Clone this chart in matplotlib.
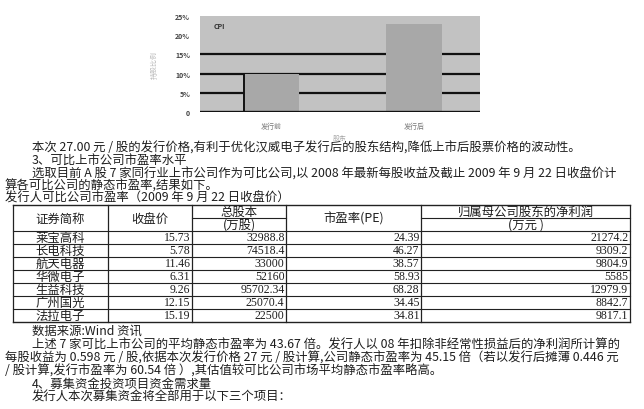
import matplotlib
matplotlib.use('Agg')
import matplotlib.pyplot as plt

plt.rcParams['font.family'] = ['Noto Sans CJK SC', 'DejaVu Sans']

# chart data (small bar chart at the top of the page)
bar_labels = ['发行前', '发行后']
bar_values = [10, 23]
y_ticks = [0, 5, 10, 15, 20, 25]
y_tick_labels = ['0', '5%', '10%', '15%', '20%', '25%']

# table data
headers = ['证券简称', '收盘价', '总股本', '市盈率(PE)', '归属母公司股东的净利润']
sub_headers = ['', '', '(万股)', '', '(万元 )']
names = ['莱宝高科', '长电科技', '航天电器', '华微电子', '生益科技', '广州国光', '法拉电子']
close_price = ['15.73', '5.78', '11.46', '6.31', '9.26', '12.15', '15.19']
total_shares = ['32988.8', '74518.4', '33000', '52160', '95702.34', '25070.4', '22500']
pe_ratio = ['24.39', '46.27', '38.57', '58.93', '68.28', '34.45', '34.81']
net_profit = ['21274.2', '9309.2', '9804.9', '5585', '12979.9', '8842.7', '9817.1']

text_before = [
    (32, '本次 27.00 元 / 股的发行价格,有利于优化汉威电子发行后的股东结构,降低上市后股票价格的波动性。'),
    (32, '3、可比上市公司市盈率水平'),
    (32, '选取目前 A 股 7 家同行业上市公司作为可比公司,以 2008 年最新每股收益及截止 2009 年 9 月 22 日收盘价计'),
    (5, '算各可比公司的静态市盈率,结果如下。'),
    (5, '发行人可比公司市盈率（2009 年 9 月 22 日收盘价）'),
]
text_after = [
    (32, '数据来源:Wind 资讯'),
    (32, '上述 7 家可比上市公司的平均静态市盈率为 43.67 倍。发行人以 08 年扣除非经常性损益后的净利润所计算的'),
    (5, '每股收益为 0.598 元 / 股,依据本次发行价格 27 元 / 股计算,公司静态市盈率为 45.15 倍（若以发行后摊薄 0.446 元'),
    (5, '/ 股计算,发行市盈率为 60.54 倍 ）,其估值较可比公司市场平均静态市盈率略高。'),
    (32, '4、募集资金投资项目资金需求量'),
    (32, '发行人本次募集资金将全部用于以下三个项目：'),
]

W, H = 644, 410
fig = plt.figure(figsize=(W / 100, H / 100), dpi=100)
fig.patch.set_facecolor('white')

# page layer in pixel coordinates
page = fig.add_axes([0, 0, 1, 1])
page.set_xlim(0, W)
page.set_ylim(H, 0)
page.axis('off')

ink = '#1e1e1e'
fs = 8.9

# --- bar chart ---
ax = fig.add_axes([200 / W, 1 - 113 / H, 280 / W, 96 / H])
ax.set_facecolor('#c2c2c2')
x = list(range(len(bar_values)))
ax.set_xlim(-0.5, 1.46)
ax.set_ylim(0, 25)
for g in [5, 10, 15]:
    ax.axhline(g, color='#111111', lw=1.6, zorder=1)
ax.axhline(0, color='#111111', lw=2.4, zorder=4)
ax.bar(x, bar_values, width=0.39, color='#a8a8a8', zorder=2)
ax.vlines(x[0] - 0.195, 0, bar_values[0], color='#111111', lw=1.4, zorder=3)
ax.set_yticks(y_ticks)
ax.set_yticklabels(y_tick_labels, fontsize=5, color='#444444', fontweight='bold')
ax.set_xticks(x)
ax.set_xticklabels(bar_labels, fontsize=5, color='#777777')
ax.tick_params(length=0, pad=7)
for s in ax.spines.values():
    s.set_visible(False)
ax.text(0.05, 0.9, 'CPI', transform=ax.transAxes, fontsize=5, fontweight='bold',
        color='#333333', va='center')
ax.set_ylabel('持股比例', fontsize=5, color='#bbbbbb', labelpad=12)
ax.set_xlabel('股东', fontsize=5, color='#aaaaaa', labelpad=3)

# --- paragraph before the table ---
for (x0, line), y in zip(text_before, [148, 161, 174, 186, 198]):
    page.text(x0, y, line, fontsize=fs, color=ink, va='center', ha='left')

# --- table ---
cols = [13, 108, 192, 286, 421, 630]
top, head_mid, head_bot = 206, 219, 232
row_h = 13
bottom = head_bot + row_h * len(names)
lc = '#222222'
for cx in cols:
    page.plot([cx, cx], [top, bottom], color=lc, lw=0.9)
page.plot([cols[0], cols[-1]], [top, top], color=lc, lw=1.0)
page.plot([cols[0], cols[-1]], [bottom, bottom], color=lc, lw=1.0)
page.plot([cols[2], cols[3]], [head_mid, head_mid], color=lc, lw=0.8)
page.plot([cols[4], cols[5]], [head_mid, head_mid], color=lc, lw=0.8)
for i in range(len(names)):
    yy = head_bot + i * row_h
    page.plot([cols[0], cols[-1]], [yy, yy], color=lc, lw=0.8)

for j, (h, sh) in enumerate(zip(headers, sub_headers)):
    cxm = (cols[j] + cols[j + 1]) / 2
    if sh:
        page.text(cxm, (top + head_mid) / 2, h, fontsize=fs, color=ink, ha='center', va='center')
        page.text(cxm, (head_mid + head_bot) / 2, sh, fontsize=fs, color=ink, ha='center', va='center')
    else:
        page.text(cxm, (top + head_bot) / 2, h, fontsize=fs, color=ink, ha='center', va='center')

columns = [close_price, total_shares, pe_ratio, net_profit]
for i, name in enumerate(names):
    yc = head_bot + i * row_h + row_h / 2
    page.text((cols[0] + cols[1]) / 2, yc, name, fontsize=fs, color=ink, ha='center', va='center')
    for j, col in enumerate(columns):
        page.text(cols[j + 2] - 1.5, yc, col[i], fontsize=fs - 0.4, color=ink,
                  ha='right', va='center', family=['Liberation Serif', 'DejaVu Serif'])

# --- paragraph after the table ---
for (x0, line), y in zip(text_after, [331, 345, 358, 371, 384, 397]):
    page.text(x0, y, line, fontsize=fs, color=ink, va='center', ha='left')

fig.savefig('out.png', dpi=100, facecolor='white')
